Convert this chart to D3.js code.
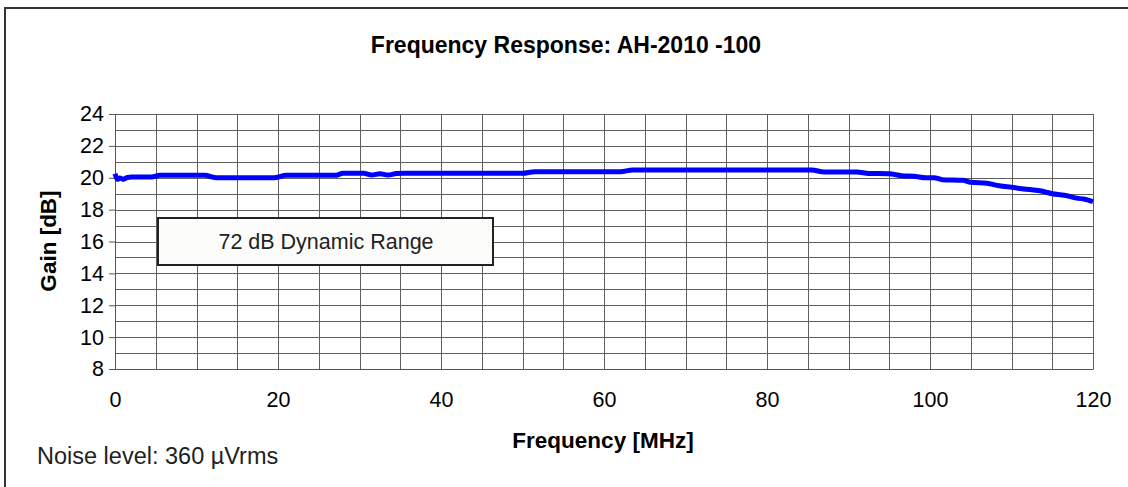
<!DOCTYPE html>
<html lang="en">
<head>
  <meta charset="UTF-8">
  <title>Frequency Response: AH-2010 -100</title>
  <script src="https://d3js.org/d3.v7.min.js"></script>
  <style>
    body {
      margin: 0;
      background: #fff;
      font-family: "Liberation Sans", Arial, sans-serif;
    }
    .grid line { stroke: #5e5e5e; stroke-width: 1; shape-rendering: crispEdges; }
    .tick text { font-size: 21.5px; fill: #000; }
  </style>
</head>
<body>
  <svg id="chart"></svg>

  <script>
    // readings
    const freqMHz = [0, 0.3, 0.6, 1, 1.5, 2, 4.5, 5.5, 11, 12.5, 19.5, 21, 27, 28, 30.5, 31.5, 32.5, 33.5,
      34.5, 35.5, 50, 51.5, 62, 63.5, 85.5, 87, 91, 92.5, 95, 96.5, 98, 99.5, 100.5, 101.5, 104, 105,
      107, 108.5, 110, 111.5, 113.5, 115, 116.5, 118, 119, 120];
    const gainDb = [20.25, 19.9, 19.98, 19.9, 20.02, 20.04, 20.04, 20.15, 20.15, 20.0, 20.0, 20.15, 20.15,
      20.28, 20.28, 20.17, 20.25, 20.17, 20.26, 20.28, 20.28, 20.38, 20.38, 20.48, 20.48, 20.36, 20.36,
      20.27, 20.25, 20.13, 20.1, 20.0, 20.0, 19.88, 19.84, 19.72, 19.65, 19.5, 19.4, 19.3, 19.18, 19.0,
      18.9, 18.72, 18.65, 18.5];

    const xTicks = [0, 20, 40, 60, 80, 100, 120];
    const yTicks = [8, 10, 12, 14, 16, 18, 20, 22, 24];
    const xGrid = d3.range(0, 121, 5);
    const yGrid = d3.range(8, 25, 1);

    const W = 1128, H = 487;
    const plot = { left: 115, right: 1093, top: 114, bottom: 369 };

    const svg = d3.select("#chart").attr("width", W).attr("height", H);

    const x = d3.scaleLinear().domain([0, 120]).range([plot.left, plot.right]);
    const y = d3.scaleLinear().domain([8, 24]).range([plot.bottom, plot.top]);

    // frame (only top and left edges show in the original crop)
    svg.append("line").attr("x1", 4).attr("x2", W).attr("y1", 8).attr("y2", 8)
      .attr("stroke", "#333").attr("stroke-width", 2);
    svg.append("line").attr("x1", 5).attr("x2", 5).attr("y1", 8).attr("y2", H)
      .attr("stroke", "#333").attr("stroke-width", 2);

    svg.append("text")
      .attr("x", 566).attr("y", 53)
      .attr("text-anchor", "middle")
      .style("font-size", "23px").style("font-weight", "bold")
      .text("Frequency Response: AH-2010 -100");

    // grid
    const grid = svg.append("g").attr("class", "grid");
    grid.selectAll(".vg").data(xGrid).join("line")
      .attr("x1", d => Math.round(x(d)) + 0.5).attr("x2", d => Math.round(x(d)) + 0.5)
      .attr("y1", plot.top).attr("y2", plot.bottom);
    grid.selectAll(".hg").data(yGrid).join("line")
      .attr("x1", plot.left).attr("x2", plot.right)
      .attr("y1", d => Math.round(y(d)) + 0.5).attr("y2", d => Math.round(y(d)) + 0.5);

    // axes
    const yAxis = svg.append("g")
      .attr("transform", `translate(${plot.left},0)`)
      .call(d3.axisLeft(y).tickValues(yTicks).tickSize(6).tickPadding(5).tickFormat(d3.format("d")));
    yAxis.select(".domain").attr("stroke", "#555");
    yAxis.selectAll(".tick line").attr("stroke", "#555");

    const xAxis = svg.append("g")
      .attr("transform", `translate(0,${plot.bottom})`)
      .call(d3.axisBottom(x).tickValues(xTicks).tickSize(0).tickPadding(23));
    xAxis.select(".domain").attr("stroke", "#555");
    svg.selectAll(".tick text").style("font-family", "'Liberation Sans', Arial, sans-serif");

    // curve
    const pts = freqMHz.map((f, i) => [f, gainDb[i]]);
    svg.append("path")
      .datum(pts)
      .attr("fill", "none")
      .attr("stroke", "#0000ff")
      .attr("stroke-width", 5)
      .attr("stroke-linejoin", "round")
      .attr("d", d3.line().x(d => x(d[0])).y(d => y(d[1])).curve(d3.curveMonotoneX));

    // annotation box
    svg.append("rect")
      .attr("x", 158).attr("y", 218).attr("width", 335).attr("height", 47)
      .attr("fill", "#fcfcfa").attr("stroke", "#222").attr("stroke-width", 2);
    svg.append("text")
      .attr("x", 326).attr("y", 249).attr("text-anchor", "middle")
      .style("font-size", "21.5px").attr("fill", "#222")
      .text("72 dB Dynamic Range");

    // axis titles
    svg.append("text")
      .attr("transform", "translate(56,241) rotate(-90)")
      .attr("text-anchor", "middle")
      .style("font-size", "22.5px").style("font-weight", "bold")
      .text("Gain [dB]");
    svg.append("text")
      .attr("x", 603).attr("y", 448).attr("text-anchor", "middle")
      .style("font-size", "22.5px").style("font-weight", "bold")
      .text("Frequency [MHz]");

    // noise note
    svg.append("text")
      .attr("x", 37).attr("y", 464)
      .style("font-size", "23.5px").attr("fill", "#222")
      .text("Noise level: 360 \u00b5Vrms");
  </script>
</body>
</html>
